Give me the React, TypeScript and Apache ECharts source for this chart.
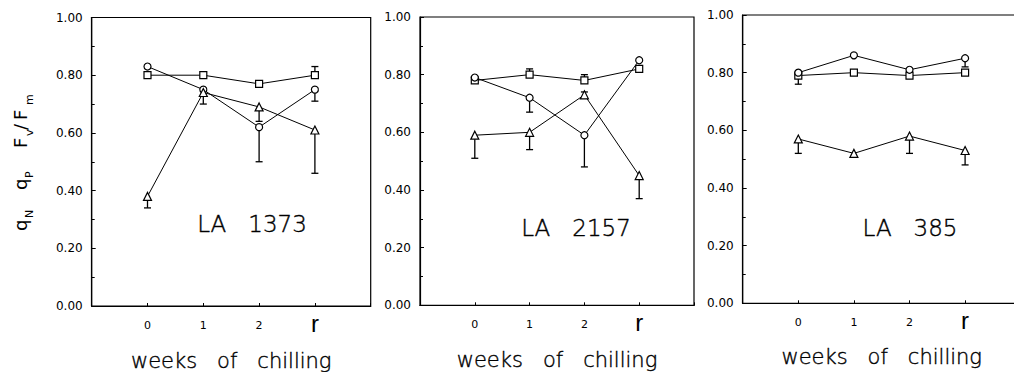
import React, { useEffect, useRef } from 'react';
import * as echarts from 'echarts';

const weeks = ['0', '1', '2', 'r'];
const xAxisTitle = 'weeks   of   chilling';
const panelNames = ['LA   1373', 'LA   2157', 'LA   385'];

// LA 1373
const la1373Square = [0.80, 0.80, 0.77, 0.80];
const la1373Circle = [0.83, 0.75, 0.62, 0.75];
const la1373Triangle = [0.38, 0.74, 0.69, 0.61];
const la1373SquareErr = [null, null, null, 0.83];
const la1373CircleErr = [null, null, 0.50, 0.71];
const la1373TriangleErr = [0.34, 0.70, 0.64, 0.46];

// LA 2157
const la2157Square = [0.78, 0.80, 0.78, 0.82];
const la2157Circle = [0.79, 0.72, 0.59, 0.85];
const la2157Triangle = [0.59, 0.60, 0.73, 0.45];
const la2157SquareErr = [null, 0.82, 0.80, null];
const la2157CircleErr = [null, 0.67, 0.48, null];
const la2157TriangleErr = [0.51, 0.54, 0.74, 0.37];

// LA 385
const la385Square = [0.79, 0.80, 0.79, 0.80];
const la385Circle = [0.80, 0.86, 0.81, 0.85];
const la385Triangle = [0.57, 0.52, 0.58, 0.53];
const la385SquareErr = [0.76, null, 0.78, null];
const la385CircleErr = [null, null, null, 0.82];
const la385TriangleErr = [0.52, null, 0.52, 0.48];

const FONT = 'DejaVu Sans';

const grids = [
  { left: 91.7, top: 17.5, width: 279, height: 288.5 },
  { left: 420, top: 17, width: 274, height: 288.3 },
  { left: 742.7, top: 15, width: 278, height: 288.3 },
];
const nameGaps = [44.5, 44.5, 43];
const labelPos = [
  { x: 252, y: 224 },
  { x: 576, y: 227.5 },
  { x: 910, y: 227.5 },
];

type Num = number | null;

function buildPanel(i: number, sq: number[], ci: number[], tr: number[], sqE: Num[], ciE: Num[], trE: Num[]) {
  const series: any[] = [];
  const sets: [number[], Num[], string][] = [
    [sq, sqE, 'rect'],
    [ci, ciE, 'circle'],
    [tr, trE, 'triangle'],
  ];
  sets.forEach(([vals, errs, sym], k) => {
    series.push({
      type: 'custom',
      xAxisIndex: i,
      yAxisIndex: i,
      z: 2,
      data: errs
        .map((e, j) => (e === null ? null : [j, vals[j], e]))
        .filter((d) => d !== null),
      renderItem: (params: any, api: any) => {
        const p = api.coord([api.value(0), api.value(1)]);
        const q = api.coord([api.value(0), api.value(2)]);
        return {
          type: 'group',
          children: [
            { type: 'line', shape: { x1: p[0], y1: p[1], x2: q[0], y2: q[1] }, style: { stroke: '#000', lineWidth: 1.3 } },
            { type: 'line', shape: { x1: q[0] - 3.5, y1: q[1], x2: q[0] + 3.5, y2: q[1] }, style: { stroke: '#000', lineWidth: 1.3 } },
          ],
        };
      },
    });
    series.push({
      type: 'line',
      xAxisIndex: i,
      yAxisIndex: i,
      z: 3 + k,
      data: vals.map((v, j) => [j, v]),
      symbol: sym,
      symbolSize: sym === 'triangle' ? 8 : 7,
      lineStyle: { color: '#000', width: 1 },
      itemStyle: { color: '#fff', borderColor: '#000', borderWidth: 1.2 },
    });
  });
  return series;
}

function App() {
  const ref = useRef<HTMLDivElement>(null);
  useEffect(() => {
    if (!ref.current) return;
    const chart = echarts.init(ref.current, null, { renderer: 'svg' });
    const series = [
      ...buildPanel(0, la1373Square, la1373Circle, la1373Triangle, la1373SquareErr, la1373CircleErr, la1373TriangleErr),
      ...buildPanel(1, la2157Square, la2157Circle, la2157Triangle, la2157SquareErr, la2157CircleErr, la2157TriangleErr),
      ...buildPanel(2, la385Square, la385Circle, la385Triangle, la385SquareErr, la385CircleErr, la385TriangleErr),
    ];
    const xAxes = grids.map((_, i) => ({
      type: 'value',
      gridIndex: i,
      min: -1,
      max: 4,
      interval: 1,
      splitLine: { show: false },
      axisLine: { show: true, onZero: false, lineStyle: { color: '#000', width: 1.2 } },
      axisTick: { show: true, inside: true, length: 3, lineStyle: { color: '#000' } },
      axisLabel: {
        margin: 19,
        verticalAlign: 'middle',
        formatter: (v: number) => {
          const j = Math.round(v);
          if (j < 0 || j >= weeks.length) return '';
          const t = weeks[j];
          return /\d/.test(t) ? `{d|${t}}` : `{r|${t}}`;
        },
        rich: {
          d: { fontSize: 11, fontFamily: FONT, color: '#000' },
          r: { fontSize: 24, fontFamily: 'Liberation Sans', color: '#000', padding: [0, 0, 4, 0] },
        },
      },
      name: xAxisTitle,
      nameLocation: 'middle',
      nameGap: nameGaps[i],
      nameTextStyle: { fontSize: 21, fontFamily: FONT, fontWeight: 200, color: '#000', textBorderColor: '#000', textBorderWidth: 0.4 },
    }));
    const yAxes = grids.map((_, i) => ({
      type: 'value',
      gridIndex: i,
      min: 0,
      max: 1,
      interval: 0.2,
      splitLine: { show: false },
      axisLine: { show: true, onZero: false, lineStyle: { color: '#000', width: 1.2 } },
      axisTick: { show: true, inside: true, length: 4, lineStyle: { color: '#000' } },
      minorTick: { show: true, splitNumber: 2, length: 3, lineStyle: { color: '#000' } },
      axisLabel: {
        margin: 9,
        fontSize: 12,
        fontFamily: FONT,
        color: '#000',
        formatter: (v: number) => v.toFixed(2),
      },
    }));
    const rot = Math.PI / 2;
    const mainStyle = { fontSize: 18, fontFamily: FONT, fill: '#000', align: 'left', verticalAlign: 'middle' };
    const subStyle = { fontSize: 11, fontFamily: FONT, fill: '#000', align: 'left', verticalAlign: 'middle' };
    const yTitle = [
      { t: 'q', x: 20.5, y: 231, s: mainStyle },
      { t: 'N', x: 29.5, y: 218, s: subStyle },
      { t: 'q', x: 20.5, y: 190, s: mainStyle },
      { t: 'P', x: 29.5, y: 178, s: subStyle },
      { t: 'F', x: 20.5, y: 148, s: mainStyle },
      { t: 'v', x: 29.5, y: 136, s: subStyle },
      { t: '/', x: 20.5, y: 130, s: mainStyle },
      { t: 'F', x: 20.5, y: 120, s: mainStyle },
      { t: 'm', x: 29.5, y: 105, s: subStyle },
    ];
    const graphic: any[] = [
      ...yTitle.map((g) => ({
        type: 'text',
        x: g.x,
        y: g.y,
        rotation: rot,
        style: { ...g.s, text: g.t },
      })),
      ...panelNames.map((n, i) => ({
        type: 'text',
        x: labelPos[i].x,
        y: labelPos[i].y,
        style: {
          text: n, fontSize: 23, fontFamily: FONT, fontWeight: 200, fill: '#000',
          stroke: '#000', lineWidth: 0.4, align: 'center', verticalAlign: 'middle',
        },
      })),
    ];
    chart.setOption({
      animation: false,
      backgroundColor: '#fff',
      grid: grids.map((g) => ({
        ...g, show: true, borderColor: '#000', borderWidth: 1.2, backgroundColor: 'transparent',
        containLabel: false, outerBoundsMode: 'none',
      })),
      xAxis: xAxes,
      yAxis: yAxes,
      series,
      graphic,
    });
    return () => chart.dispose();
  }, []);
  return <div ref={ref} style={{ position: 'absolute', left: 0, top: 0, width: 1014, height: 372 }} />;
}

export default App;
